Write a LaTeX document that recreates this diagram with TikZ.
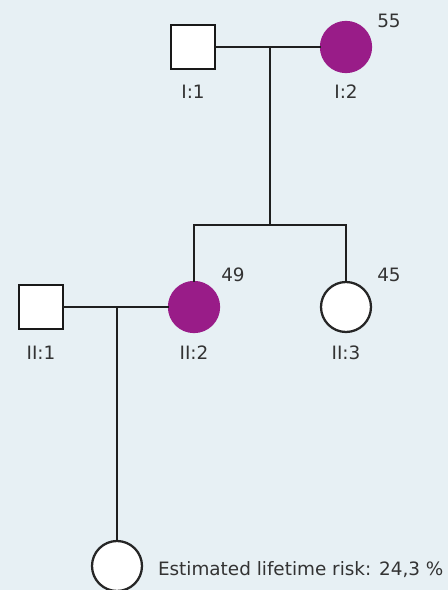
\documentclass[tikz,border=0pt]{standalone}
\usepackage{fontspec}
\setmainfont{DejaVu Sans}
\definecolor{bgcol}{HTML}{E7F0F4}
\definecolor{affected}{HTML}{991C88}
\begin{document}
\begin{tikzpicture}[x=0.75pt,y=-0.75pt,
  every node/.style={inner sep=0pt,outer sep=0pt},
  male/.style={draw=black!90,line width=2.1pt,fill=white,minimum size=44*0.75pt,rectangle},
  female/.style={draw=black!85,line width=1.7pt,fill=white,minimum size=50*0.75pt,circle},
  sick/.style={fill=affected,draw=affected},
  link/.style={line width=2pt,draw=black!88},
  tag/.style={font=\fontsize{13.8}{16}\selectfont,text=black!80,anchor=base},
  age/.style={font=\fontsize{13.8}{16}\selectfont,text=black!80,anchor=base}]
% canvas
\fill[bgcol] (0,0) rectangle (448,590);
\useasboundingbox (0,0) rectangle (448,590);

% generation I
\node[male] (I1) at (193,47) {};
\node[female,sick] (I2) at (346,47) {};
\coordinate (m1) at (270,47);
\coordinate (s1) at (270,225);
\coordinate (s1l) at (194,225);
\coordinate (s1r) at (346,225);

% generation II
\node[male] (II1) at (41,307) {};
\node[female,sick] (II2) at (194,307) {};
\node[female] (II3) at (346,307) {};
\coordinate (m2) at (117,307);

% generation III
\node[female] (III1) at (117,566) {};

% lines of descent
\draw[link] (I1.east) -- (I2.west);
\draw[link] (m1) -- (s1);
\draw[link] (II2.north) |- (s1l) -- (s1r) -- (II3.north);
\draw[link] (II1.east) -- (II2.west);
\draw[link] (m2) -- (III1.north);

% labels
\node[tag] (lI1) at (193,98) {I:1};
\node[tag] (lI2) at (346,98) {I:2};
\node[tag] (lII1) at (41,359) {II:1};
\node[tag] (lII2) at (194,359) {II:2};
\node[tag] (lII3) at (346,359) {II:3};
\node[age] (aI2) at (389,27) {55};
\node[age] (aII2) at (233,281) {49};
\node[age] (aII3) at (389,281) {45};
\node[tag,anchor=base west] (risk) at (158,575) {Estimated lifetime risk: 24,3 \%};
\end{tikzpicture}
\end{document}
